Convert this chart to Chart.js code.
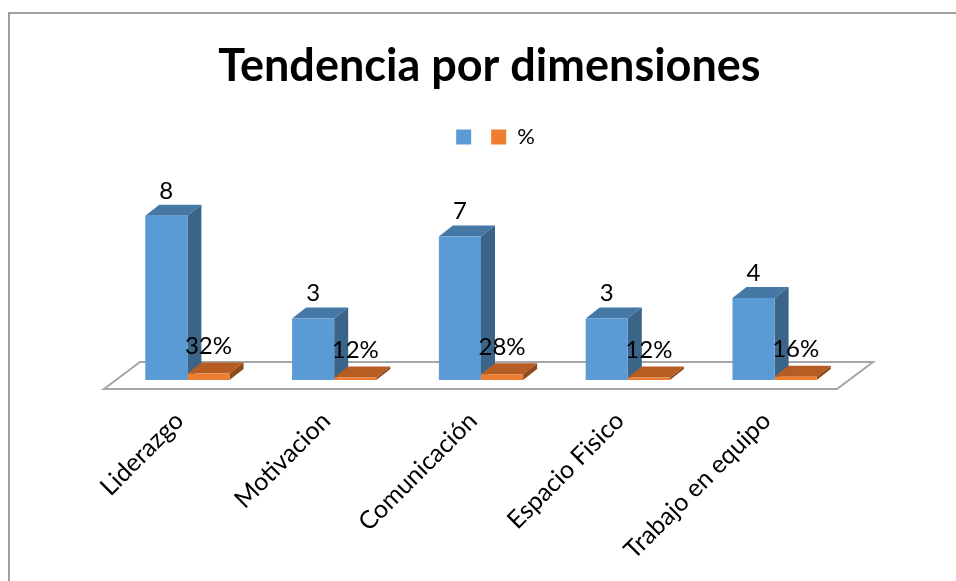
<!DOCTYPE html>
<html>
<head>
<meta charset="utf-8">
<script src="https://cdn.jsdelivr.net/npm/chart.js@4"></script>
<style>
  html, body { margin:0; padding:0; background:#fff; overflow:hidden; }
  #wrap { position:absolute; left:8px; top:12px; width:948px; height:569px; border-left:2px solid #a0a0a0; border-top:2px solid #a0a0a0; }
  canvas { display:block; }
</style>
</head>
<body>
<div id="wrap"><canvas id="chart" width="946" height="567"></canvas></div>
<script>
// datos
const categorias = ['Liderazgo', 'Motivacion', 'Comunicación', 'Espacio Fisico', 'Trabajo en equipo'];
const series = ['', '%'];
const cantidades = [8, 3, 7, 3, 4];
const porcentajes = [0.32, 0.12, 0.28, 0.12, 0.16];
const titulo = 'Tendencia por dimensiones';

const FONT = 'Lato';
const DX = 14, DY = -11;   // profundidad del efecto 3D

// piso + caras laterales y superiores de las barras
const efecto3d = {
    id: 'efecto3d',
    afterLayout(chart) {
        // la leyenda del original no queda centrada
        chart.legend.left += 6;
        chart.legend.right += 6;
    },
    beforeDatasetsDraw(chart) {
        const { ctx, scales: { x, y } } = chart;
        ctx.save();
        ctx.beginPath();
        ctx.moveTo(x.left - 10, y.bottom + 9);
        ctx.lineTo(x.right - 11, y.bottom + 9);
        ctx.lineTo(x.right + 25, y.bottom - 18);
        ctx.lineTo(x.left + 26, y.bottom - 18);
        ctx.closePath();
        ctx.fillStyle = '#fff';
        ctx.fill();
        ctx.lineWidth = 2;
        ctx.strokeStyle = '#a6a6a6';
        ctx.stroke();

        const caras = [['#4678a6', '#3a6488'], ['#b55d23', '#8f4a1c']];
        chart.data.datasets.forEach((ds, i) => {
            chart.getDatasetMeta(i).data.forEach(el => {
                const l = el.x - el.width / 2, r = el.x + el.width / 2;
                ctx.fillStyle = caras[i][0];
                ctx.beginPath();
                ctx.moveTo(l, el.y);
                ctx.lineTo(l + DX, el.y + DY);
                ctx.lineTo(r + DX, el.y + DY);
                ctx.lineTo(r, el.y);
                ctx.closePath();
                ctx.fill();
                ctx.fillStyle = caras[i][1];
                ctx.beginPath();
                ctx.moveTo(r, el.y);
                ctx.lineTo(r + DX, el.y + DY);
                ctx.lineTo(r + DX, el.base + DY);
                ctx.lineTo(r, el.base);
                ctx.closePath();
                ctx.fill();
            });
        });
        ctx.restore();
    },
    afterDatasetsDraw(chart) {
        const { ctx } = chart;
        ctx.save();
        ctx.font = '24px ' + FONT;
        ctx.fillStyle = '#000';
        ctx.textAlign = 'center';
        ctx.textBaseline = 'middle';
        chart.data.datasets.forEach((ds, i) => {
            chart.getDatasetMeta(i).data.forEach((el, j) => {
                const txt = i === 0 ? String(ds.data[j]) : Math.round(ds.data[j] * 100) + '%';
                ctx.fillText(txt, el.x, el.y - (i === 0 ? 25 : 27));
            });
        });
        ctx.restore();
    }
};

new Chart(document.getElementById('chart'), {
    type: 'bar',
    data: {
        labels: categorias,
        datasets: [
            { label: series[0], data: cantidades, backgroundColor: '#5b9bd5' },
            { label: series[1], data: porcentajes, backgroundColor: '#ed7d31' }
        ]
    },
    plugins: [efecto3d],
    options: {
        responsive: false,
        animation: false,
        categoryPercentage: 0.574,
        barPercentage: 1,
        layout: { padding: { left: 104, right: 91, top: 25, bottom: 0 } },
        plugins: {
            tooltip: { enabled: false },
            title: {
                display: true,
                text: titulo,
                color: '#000',
                font: { family: FONT, size: 45, weight: 'bold' },
                padding: { top: 0, bottom: 24 }
            },
            legend: {
                position: 'top',
                labels: {
                    boxWidth: 15,
                    boxHeight: 15,
                    padding: 9,
                    color: '#000',
                    font: { family: FONT, size: 22 }
                }
            }
        },
        scales: {
            x: {
                grid: { display: false },
                border: { display: false },
                ticks: {
                    color: '#000',
                    font: { family: FONT, size: 25 },
                    minRotation: 45,
                    maxRotation: 45,
                    autoSkip: false,
                    labelOffset: -8,
                    padding: 18
                },
                afterFit(s) { s.height = 201; s.paddingLeft = 0; s.paddingRight = 0; }
            },
            y: {
                position: 'right',
                min: 0,
                max: 10.82,
                grid: { display: false },
                border: { display: false },
                ticks: { display: false },
                afterFit(s) { s.width = 17; }
            }
        }
    }
});
</script>
</body>
</html>
